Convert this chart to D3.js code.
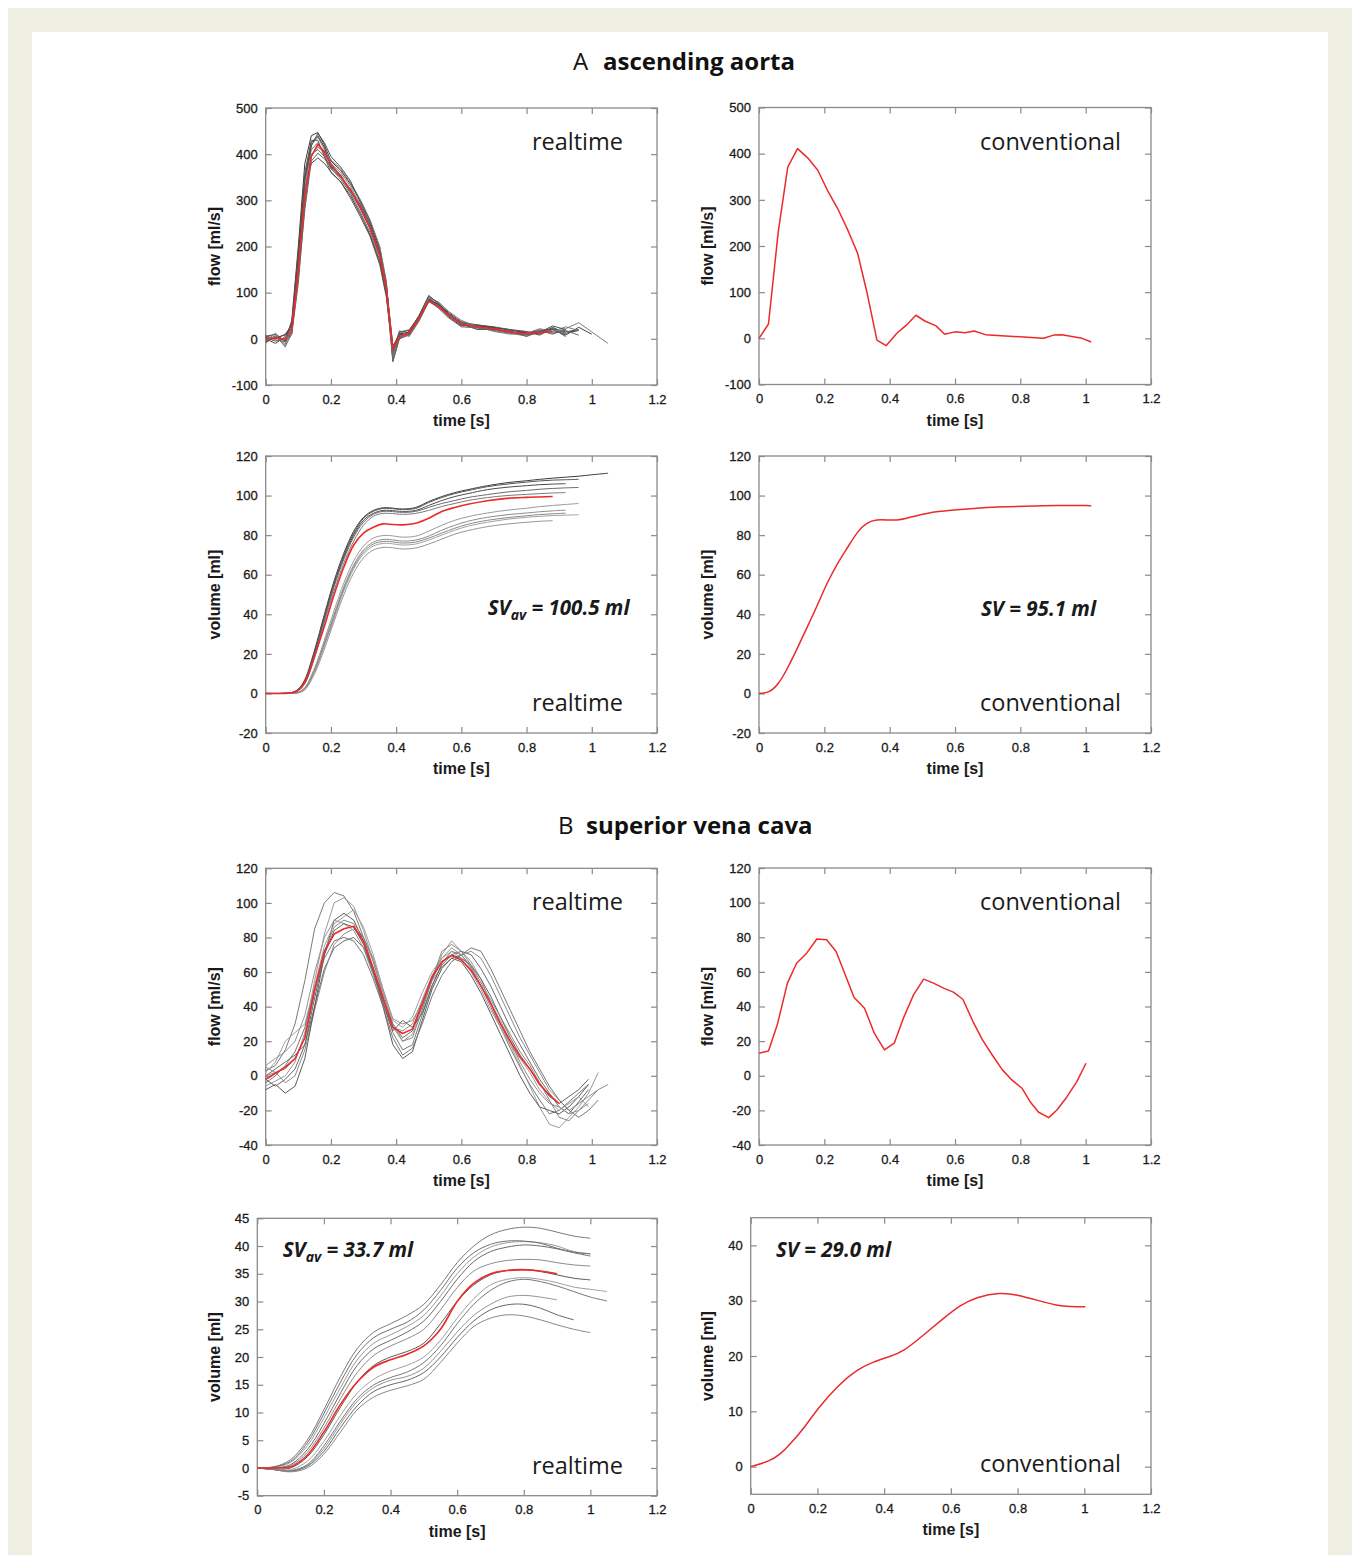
<!DOCTYPE html>
<html>
<head>
<meta charset="utf-8">
<script src="https://cdn.jsdelivr.net/npm/d3@7"></script>
<style>
  body { margin: 0; background: #fff; }
  svg { display: block; }
  .axis line { stroke: #8a8a8a; stroke-width: 1.2; }
  .axis text { font-family: Arial, "Liberation Sans", sans-serif; font-size: 13px; fill: #1a1a1a; stroke: #1a1a1a; stroke-width: 0.3; }
  .axis-title { font-family: Arial, "Liberation Sans", sans-serif; font-size: 16px; font-weight: bold; fill: #1a1a1a; }
  .tag { font-family: "Open Sans", sans-serif; font-size: 23.5px; fill: #1a1a1a; }
  .sv { font-family: "Open Sans", sans-serif; font-size: 20.5px; font-weight: bold; font-style: italic; fill: #1a1a1a; }
  .title { font-family: "Open Sans", sans-serif; font-size: 24px; fill: #111; }
</style>
</head>
<body>
<svg id="chart" width="1355" height="1555"></svg>
<script>
// ---- data ----
const xTicks = [0, 0.2, 0.4, 0.6, 0.8, 1, 1.2];

// A: ascending aorta, realtime flow (ml/s)
const aFlowRtTime = [0, 0.03, 0.06, 0.08, 0.10, 0.12, 0.14, 0.16, 0.18, 0.20, 0.23, 0.26, 0.29, 0.32, 0.35, 0.37, 0.39, 0.41, 0.44, 0.47, 0.50, 0.53, 0.56, 0.60, 0.65, 0.70, 0.75, 0.80, 0.84, 0.88, 0.92, 0.96, 1.0, 1.05];
const aFlowRtMean = [-3, 2, -1, 20, 150, 310, 395, 421, 405, 378, 352, 322, 285, 240, 180, 110, -22, 5, 12, 45, 82, 70, 52, 32, 26, 22, 15, 11, 14, 16];
const aFlowRtRuns = [
  [5, 10, -5, 40, 200, 380, 440, 447, 420, 385, 365, 335, 300, 255, 195, 120, -45, 10, 15, 50, 92, 78, 55, 35, 28, 24, 20, 12, 18, 22, 15, 20],
  [-8, 5, -15, 10, 120, 290, 400, 410, 395, 370, 345, 315, 275, 230, 170, 100, -50, 0, 8, 40, 88, 72, 50, 30, 25, 18, 14, 8, 12, 20, 10],
  [0, -10, 5, 25, 170, 330, 380, 392, 380, 362, 340, 310, 270, 225, 165, 95, -30, 12, 10, 42, 85, 74, 58, 36, 30, 25, 18, 15, 10, 25, 12, 18],
  [-10, 8, -18, 15, 140, 320, 420, 437, 410, 380, 360, 330, 292, 248, 185, 105, -40, 15, 20, 48, 90, 68, 50, 34, 22, 20, 16, 9, 20, 14, 22, 35, 15, -10],
  [3, 0, 10, 30, 180, 350, 425, 440, 415, 372, 355, 320, 282, 238, 178, 115, -15, 8, 14, 46, 86, 75, 56, 30, 28, 23, 13, 14, 16, 20, 8, 25, 10],
  [-5, 12, -8, 18, 160, 340, 410, 425, 400, 368, 350, 318, 290, 245, 190, 120, -35, 18, 5, 38, 80, 72, 54, 38, 24, 18, 12, 6, 18, 10, 20],
  [2, -5, 0, 35, 190, 360, 430, 430, 395, 360, 340, 305, 265, 222, 160, 90, -25, 0, 16, 44, 84, 70, 48, 28, 30, 26, 20, 16, 8, 22, 5],
  [-2, 6, -12, 22, 150, 300, 398, 415, 405, 388, 368, 338, 302, 258, 200, 125, -42, 6, 12, 42, 88, 80, 60, 40, 26, 16, 10, 12, 22, 16, 26, 18],
  [-6, 3, 8, 28, 175, 345, 418, 445, 425, 395, 372, 342, 296, 250, 188, 112, -20, 14, 18, 50, 94, 76, 52, 32, 20, 22, 15, 10, 14, 28, 20],
  [8, -2, -6, 12, 130, 280, 385, 402, 390, 375, 350, 325, 288, 242, 182, 108, -48, 2, 10, 40, 82, 66, 46, 26, 24, 20, 17, 5, 16, 12, 18, 8]
];

// A: ascending aorta, conventional flow (ml/s)
const aFlowConvTime = [0, 0.029, 0.059, 0.088, 0.118, 0.149, 0.18, 0.212, 0.243, 0.274, 0.302, 0.33, 0.361, 0.389, 0.422, 0.452, 0.48, 0.509, 0.542, 0.568, 0.6, 0.631, 0.659, 0.693, 0.754, 0.81, 0.871, 0.902, 0.927, 0.989, 1.017];
const aFlowConv = [0, 31, 231, 371, 411, 391, 364, 317, 278, 231, 184, 101, -4, -16, 11, 29, 50, 37, 27, 9, 14, 12, 16, 8, 5, 3, 0, 7, 8, 0, -8];

// A: ascending aorta, realtime volume (ml)
const aVolRtTime = [0, 0.05, 0.08, 0.10, 0.12, 0.15, 0.18, 0.21, 0.24, 0.27, 0.30, 0.33, 0.36, 0.38, 0.42, 0.46, 0.50, 0.54, 0.58, 0.62, 0.68, 0.74, 0.80, 0.84, 0.88, 0.92, 0.96, 1.0, 1.05];
const aVolRtMean = [0, 0, 0.3, 1.5, 5.5, 19, 34, 50, 64, 75, 81, 84, 85.7, 85.5, 85.2, 86, 88.5, 92, 94, 95.6, 97.4, 98.6, 99.1, 99.3, 99.5];
const aVolRtRuns = [
  [0, 0, 0.5, 2.2, 7, 22, 40, 57, 71, 82, 89, 92.5, 93.8, 93.8, 93.2, 94, 97, 99.5, 101.5, 103, 105, 106.5, 107.5, 108.2, 108.8, 109.3, 109.8, 110.5, 111.3],
  [0, 0, 0.4, 2, 6.5, 21, 39, 56, 70, 81, 88.5, 92, 93.5, 93.5, 93, 93.5, 96.5, 99, 101, 102.5, 104.5, 105.8, 106.8, 107.4, 107.8, 108, 108.2],
  [0, 0, 0.3, 1.8, 6, 20, 38, 55, 69, 80, 87.5, 91, 92.5, 92.5, 92, 92.5, 95, 97.5, 99.5, 101, 103, 104.2, 105, 105.5, 105.8, 106],
  [0, 0, 0.3, 1.6, 5.5, 19, 37, 54, 68, 79, 86.5, 90.5, 92, 92, 91.5, 92, 94, 96, 97.5, 99, 100.5, 101.8, 102.6, 103.2, 103.6, 103.9, 104.1],
  [0, 0, 0.3, 1.5, 5, 18, 36, 52, 66, 77, 85, 89.5, 91, 91, 90.5, 91, 92.5, 94.5, 96, 97.5, 99, 100, 100.6, 101, 101.3, 101.5],
  [0, 0, 0, 0.6, 3, 13, 27, 42, 56, 67, 74.5, 78.5, 79.8, 79.8, 79, 79.5, 82, 85, 87.5, 89.3, 91.2, 92.6, 93.6, 94.4, 95, 95.5, 96],
  [0, 0, 0, 0.5, 2.6, 12, 25.5, 40, 54, 65, 72.5, 76.5, 77.8, 77.8, 77, 77.5, 79.5, 82.5, 85, 87, 89, 90.3, 91.2, 91.8, 92.3, 92.6],
  [0, 0, 0, 0.4, 2.2, 11, 24, 38, 52, 63, 70.5, 74.5, 75.8, 75.8, 75, 75.5, 77.5, 80, 82.5, 84.5, 86.5, 88, 89, 89.5, 89.9, 90.1, 90.3],
  [0, 0, 0, 0.3, 1.8, 10, 22.5, 36.5, 50, 61, 68.5, 72.5, 73.8, 73.8, 73, 73.5, 75.5, 78, 80.5, 82.3, 84.3, 85.6, 86.5, 87, 87.3],
  [0, 0, 0, 0.5, 2.4, 11.5, 25, 39, 53, 64, 71.5, 75.5, 76.8, 76.8, 76, 76.5, 78.5, 81, 83.5, 85.5, 87.5, 88.8, 89.8, 90.4, 90.8, 91.1]
];

// A: ascending aorta, conventional volume (ml)
const aVolConvTime = [0, 0.031, 0.059, 0.088, 0.118, 0.149, 0.18, 0.21, 0.241, 0.272, 0.302, 0.33, 0.361, 0.391, 0.422, 0.452, 0.483, 0.514, 0.544, 0.606, 0.667, 0.728, 0.81, 0.912, 1.017];
const aVolConv = [0, 0.3, 4.4, 12.8, 23, 34, 45, 56.5, 66, 74, 82, 86.5, 87.9, 87.7, 87.5, 88.5, 89.9, 91, 91.9, 92.9, 93.7, 94.2, 94.6, 95.1, 94.9];

// B: superior vena cava, realtime flow (ml/s)
const bFlowRtTime = [0, 0.03, 0.06, 0.09, 0.12, 0.15, 0.18, 0.21, 0.24, 0.27, 0.30, 0.33, 0.36, 0.39, 0.42, 0.45, 0.48, 0.51, 0.54, 0.57, 0.60, 0.63, 0.66, 0.69, 0.72, 0.75, 0.78, 0.81, 0.84, 0.87, 0.90, 0.93, 0.96, 0.99, 1.02, 1.05];
const bFlowRtMean = [-2, 1.5, 5, 10, 22, 50, 72, 82, 85, 86.5, 77.5, 62, 45, 28, 24.5, 27, 42, 57, 66, 69.5, 67, 61, 52, 42, 30, 20, 11, 4, -5, -11, -16];
const bFlowRtRuns = [
  [3, 6, 15, 30, 55, 85, 100, 106, 104, 95, 80, 62, 42, 25, 15, 18, 35, 52, 65, 72, 70, 63, 52, 40, 28, 16, 5, -5, -14, -22, -20, -15, -10, -5],
  [-6, -3, 0, 8, 25, 55, 82, 100, 103, 98, 84, 66, 46, 28, 20, 24, 38, 55, 70, 78, 72, 66, 56, 42, 30, 18, 6, -6, -18, -28, -30, -24, -18, -10, 2],
  [0, 4, 8, 12, 18, 40, 62, 74, 78, 80, 74, 60, 44, 30, 22, 26, 40, 56, 66, 70, 72, 70, 62, 52, 40, 28, 18, 8, -2, -10, -18, -22, -15, -8],
  [5, 2, -4, 0, 15, 38, 60, 76, 82, 85, 80, 68, 50, 33, 30, 32, 42, 55, 63, 68, 70, 72, 68, 58, 46, 34, 22, 12, 2, -8, -14, -20, -16, -12, -8, -5],
  [-8, -5, -10, -6, 10, 40, 70, 90, 94, 90, 78, 60, 40, 18, 10, 14, 32, 50, 62, 68, 66, 58, 48, 36, 24, 12, 0, -10, -18, -20, -22, -18, -12, -5],
  [2, 8, 20, 25, 30, 52, 75, 88, 92, 96, 86, 70, 50, 32, 28, 34, 48, 60, 68, 72, 68, 60, 50, 38, 28, 18, 10, 2, -8, -15, -20, -16, -12, -18],
  [-4, 0, 6, 14, 28, 50, 68, 78, 80, 78, 70, 56, 40, 22, 12, 16, 30, 46, 58, 66, 70, 74, 72, 62, 50, 38, 26, 14, 4, -6, -14, -20, -24, -20, -14],
  [6, 10, 14, 20, 35, 60, 80, 90, 88, 84, 74, 58, 42, 28, 26, 30, 44, 58, 68, 74, 70, 62, 52, 42, 32, 20, 8, -2, -10, -16, -18, -22, -20, -16],
  [-2, -6, -2, 4, 18, 45, 70, 84, 88, 86, 76, 60, 42, 26, 32, 28, 36, 52, 64, 70, 68, 64, 56, 46, 34, 22, 12, 4, -4, -12, -16, -12, -8, -2],
  [0, 2, 4, 10, 22, 48, 72, 86, 90, 88, 80, 66, 48, 30, 20, 22, 38, 56, 72, 76, 72, 64, 54, 44, 34, 24, 14, 6, -4, -14, -24, -26, -20, -14, -8]
];

// B: superior vena cava, conventional flow (ml/s)
const bFlowConvTime = [0, 0.029, 0.056, 0.087, 0.115, 0.146, 0.177, 0.207, 0.236, 0.264, 0.291, 0.323, 0.353, 0.384, 0.414, 0.442, 0.473, 0.504, 0.534, 0.565, 0.595, 0.624, 0.655, 0.684, 0.714, 0.745, 0.774, 0.805, 0.83, 0.856, 0.887, 0.912, 0.943, 0.973, 1.001];
const bFlowConv = [13, 14.3, 29.4, 53.5, 65, 70.8, 79, 78.5, 71.8, 58.3, 45.2, 39, 24.6, 14.9, 18.8, 33.2, 46.7, 55.8, 53.5, 50.6, 48.3, 44.2, 31.3, 20.7, 12, 3.4, -2.4, -7.2, -15, -21.1, -24.2, -19.8, -12.1, -3.4, 7.2];

// B: superior vena cava, realtime volume (ml)
const bVolRtTime = [0, 0.05, 0.10, 0.15, 0.20, 0.25, 0.30, 0.35, 0.40, 0.45, 0.50, 0.55, 0.60, 0.65, 0.70, 0.75, 0.80, 0.85, 0.90, 0.95, 1.0, 1.05];
const bVolRtMean = [0, 0, 0.2, 2.3, 6.5, 11.5, 15.5, 18.2, 19.5, 20.5, 22, 25, 30, 33.3, 35, 35.6, 35.7, 35.5, 35];
const bVolRtRuns = [
  [0, 0.2, 1.5, 5, 10.5, 16.5, 21.5, 24.5, 26, 27.5, 29.5, 33, 37, 40, 42, 43, 43.4, 43.2, 42.5, 41.8, 41.4],
  [0, 0.1, 1, 4, 9, 14.5, 19.5, 22.5, 24, 25.5, 27.5, 31, 35, 38, 39.8, 40.6, 40.8, 40.6, 40, 39, 38.6],
  [0, 0, 0.6, 3.3, 8, 13.5, 18.5, 21.5, 23, 24.5, 26.5, 30, 34, 37.2, 39, 39.8, 40.2, 40, 39.5, 38.8, 38.2],
  [0, 0, 0.4, 2.8, 7.2, 12.5, 17.2, 20.3, 22, 23.3, 25, 28.5, 32.5, 35.5, 36.8, 37.4, 37.6, 37.5, 37, 36.6, 36.4],
  [0, -0.2, 0, 2, 6, 11, 15.5, 18.5, 20, 21, 22.5, 26, 30, 33, 34.8, 35.6, 35.8, 35.4, 34.8, 34.2, 33.9],
  [0, -0.3, -0.3, 1.2, 4.8, 9.5, 13.5, 16, 17.5, 18.5, 20, 23, 27, 30.5, 33, 34, 34.3, 34, 33.4, 32.6, 32.2, 31.8],
  [0, -0.3, -0.5, 0.6, 4, 8.5, 12.5, 15, 16.3, 17.3, 19, 22, 26, 29.5, 32, 33.5, 34, 33.6, 32.8, 31.8, 30.8, 30.1],
  [0, -0.2, -0.5, 0.5, 3.5, 8, 12, 14.5, 15.8, 16.5, 18, 21, 24.5, 27.5, 29.5, 30.8, 31.1, 30.8, 30.3],
  [0, -0.3, -0.6, 0.3, 3, 7.3, 11.2, 13.8, 15, 15.8, 17.2, 20, 23.5, 26.5, 28.5, 29.4, 29.5, 28.8, 27.6, 26.7],
  [0, -0.3, -0.7, 0, 2.5, 6.5, 10.5, 12.8, 14, 14.8, 16, 19, 22.5, 25.5, 27, 27.6, 27.4, 26.7, 25.8, 25, 24.4],
  [0, 0.2, 1.2, 4.5, 9.8, 15.5, 20.5, 23.5, 25, 26.3, 28.5, 32, 36, 38.8, 40.3, 40.9, 40.9, 40.5, 39.6, 38.9, 38.6]
];

// B: superior vena cava, conventional volume (ml)
const bVolConvTime = [0, 0.058, 0.088, 0.118, 0.168, 0.198, 0.263, 0.318, 0.368, 0.418, 0.458, 0.518, 0.578, 0.628, 0.678, 0.748, 0.798, 0.858, 0.918, 0.958, 1.003];
const bVolConv = [0, 1, 2.2, 4, 7.6, 10.3, 14.8, 17.5, 19, 19.9, 20.8, 23.8, 26.8, 29.2, 30.7, 31.5, 31.1, 30.1, 29.1, 28.9, 28.9];

// ---- drawing ----
const svg = d3.select("#chart");
const darkGrays = ["#3a3a3a", "#6a6a6a", "#4a4a4a", "#808080", "#444444", "#707070", "#555555", "#7a7a7a", "#4f4f4f", "#666666"];
const volGraysA = ["#3c3c3c", "#555555", "#4a4a4a", "#6a6a6a", "#7a7a7a", "#9a9a9a", "#8c8c8c", "#a2a2a2", "#959595", "#888888"];
const midGrays = ["#7a7a7a", "#9a9a9a", "#6a6a6a", "#8c8c8c", "#5a5a5a", "#a0a0a0", "#777777", "#939393", "#666666", "#888888", "#707070"];
const red = "#ec2a2a";

// page frame
svg.append("rect").attr("x", 8).attr("y", 8).attr("width", 1344).attr("height", 1547).attr("fill", "#eeeee3");
svg.append("rect").attr("x", 32).attr("y", 32).attr("width", 1296).attr("height", 1523).attr("fill", "#ffffff");

// section titles
function sectionTitle(letter, name, xL, xN, y) {
  svg.append("text").attr("class", "title").attr("x", xL).attr("y", y).text(letter);
  svg.append("text").attr("class", "title").attr("x", xN).attr("y", y).attr("font-weight", "bold").text(name);
}
sectionTitle("A", "ascending aorta", 573, 603, 70);
sectionTitle("B", "superior vena cava", 558, 586, 834);

function panel(box, yDomain, yTicks, yLabel) {
  const x = d3.scaleLinear().domain([0, 1.2]).range([box.l, box.r]);
  const y = d3.scaleLinear().domain(yDomain).range([box.b, box.t]);
  const g = svg.append("g");
  const fmt = d => String(d);

  g.append("g").attr("class", "axis").attr("transform", `translate(0,${box.b})`)
    .call(d3.axisBottom(x).tickValues(xTicks).tickFormat(fmt).tickSizeInner(-6).tickSizeOuter(0).tickPadding(9.5));
  g.append("g").attr("class", "axis").attr("transform", `translate(0,${box.t})`)
    .call(d3.axisTop(x).tickValues(xTicks).tickFormat("").tickSizeInner(-6).tickSizeOuter(0));
  g.append("g").attr("class", "axis").attr("transform", `translate(${box.l},0)`)
    .call(d3.axisLeft(y).tickValues(yTicks).tickFormat(fmt).tickSizeInner(-6).tickSizeOuter(0).tickPadding(8));
  g.append("g").attr("class", "axis").attr("transform", `translate(${box.r},0)`)
    .call(d3.axisRight(y).tickValues(yTicks).tickFormat("").tickSizeInner(-6).tickSizeOuter(0));
  g.selectAll(".domain").remove();

  g.append("rect")
    .attr("x", box.l).attr("y", box.t)
    .attr("width", box.r - box.l).attr("height", box.b - box.t)
    .attr("fill", "none").attr("stroke", "#8a8a8a").attr("stroke-width", 1.3);

  g.append("text").attr("class", "axis-title")
    .attr("x", (box.l + box.r) / 2).attr("y", box.b + 41)
    .attr("text-anchor", "middle").text("time [s]");
  g.append("text").attr("class", "axis-title")
    .attr("transform", `translate(${box.yl},${(box.t + box.b) / 2}) rotate(-90)`)
    .attr("text-anchor", "middle").text(yLabel);

  return { g, x, y, box };
}

function drawLine(p, times, values, color, width, curve) {
  const line = d3.line().x(d => p.x(d[0])).y(d => p.y(d[1])).curve(curve);
  p.g.append("path")
    .datum(d3.zip(times.slice(0, values.length), values))
    .attr("fill", "none").attr("stroke", color).attr("stroke-width", width)
    .attr("stroke-linejoin", "round")
    .attr("d", line);
}

function tag(p, text, where) {
  p.g.append("text").attr("class", "tag")
    .attr("x", text === "realtime" ? p.box.r - 34 : p.box.r - 30)
    .attr("y", where === "top" ? p.box.t + 42 : p.box.b - 22)
    .attr("text-anchor", "end").text(text);
}

function svLabel(p, x, y, sub, rest) {
  const t = p.g.append("text").attr("class", "sv").attr("x", x).attr("y", y);
  t.append("tspan").text("SV");
  if (sub) {
    t.append("tspan").attr("font-size", "14px").attr("dy", 5).text(sub);
    t.append("tspan").attr("dy", -5).text(rest);
  } else {
    t.append("tspan").text(rest);
  }
}

const smooth = d3.curveCatmullRom.alpha(0.5);

// A flow realtime
const p1 = panel({ l: 265.7, r: 657, t: 108, b: 385, yl: 220 }, [-100, 500], [-100, 0, 100, 200, 300, 400, 500], "flow [ml/s]");
aFlowRtRuns.forEach((v, i) => drawLine(p1, aFlowRtTime, v, darkGrays[i % darkGrays.length], 1, d3.curveLinear));
drawLine(p1, aFlowRtTime, aFlowRtMean, red, 1.6, d3.curveLinear);
tag(p1, "realtime", "top");

// A flow conventional
const p2 = panel({ l: 759, r: 1151, t: 107.5, b: 384.5, yl: 713 }, [-100, 500], [-100, 0, 100, 200, 300, 400, 500], "flow [ml/s]");
drawLine(p2, aFlowConvTime, aFlowConv, red, 1.5, d3.curveLinear);
tag(p2, "conventional", "top");

// A volume realtime
const p3 = panel({ l: 265.7, r: 657, t: 456, b: 733, yl: 220 }, [-20, 120], [-20, 0, 20, 40, 60, 80, 100, 120], "volume [ml]");
aVolRtRuns.forEach((v, i) => drawLine(p3, aVolRtTime, v, volGraysA[i % volGraysA.length], 1, smooth));
drawLine(p3, aVolRtTime, aVolRtMean, red, 1.6, smooth);
tag(p3, "realtime", "bottom");
svLabel(p3, 487.7, 615, "av", " = 100.5 ml");

// A volume conventional
const p4 = panel({ l: 759, r: 1151, t: 456, b: 733, yl: 713 }, [-20, 120], [-20, 0, 20, 40, 60, 80, 100, 120], "volume [ml]");
drawLine(p4, aVolConvTime, aVolConv, red, 1.5, d3.curveBasis);
tag(p4, "conventional", "bottom");
svLabel(p4, 981, 615.5, null, " = 95.1 ml");

// B flow realtime
const p5 = panel({ l: 265.7, r: 657, t: 868.3, b: 1145, yl: 220 }, [-40, 120], [-40, -20, 0, 20, 40, 60, 80, 100, 120], "flow [ml/s]");
bFlowRtRuns.forEach((v, i) => drawLine(p5, bFlowRtTime, v, midGrays[i % midGrays.length], 1, d3.curveLinear));
drawLine(p5, bFlowRtTime, bFlowRtMean, red, 1.6, d3.curveLinear);
tag(p5, "realtime", "top");

// B flow conventional
const p6 = panel({ l: 759, r: 1151, t: 868, b: 1145, yl: 713 }, [-40, 120], [-40, -20, 0, 20, 40, 60, 80, 100, 120], "flow [ml/s]");
drawLine(p6, bFlowConvTime, bFlowConv, red, 1.5, d3.curveLinear);
tag(p6, "conventional", "top");

// B volume realtime
const p7 = panel({ l: 257.3, r: 657, t: 1218.3, b: 1495.7, yl: 220 }, [-5, 45], [-5, 0, 5, 10, 15, 20, 25, 30, 35, 40, 45], "volume [ml]");
bVolRtRuns.forEach((v, i) => drawLine(p7, bVolRtTime, v, midGrays[i % midGrays.length], 1, smooth));
drawLine(p7, bVolRtTime, bVolRtMean, red, 1.6, smooth);
tag(p7, "realtime", "bottom");
svLabel(p7, 282.7, 1256.7, "av", " = 33.7 ml");

// B volume conventional
const p8 = panel({ l: 750.7, r: 1151, t: 1217.7, b: 1494.3, yl: 713 }, [-5, 45], [0, 10, 20, 30, 40], "volume [ml]");
drawLine(p8, bVolConvTime, bVolConv, red, 1.5, d3.curveBasis);
tag(p8, "conventional", "bottom");
svLabel(p8, 776, 1256.7, null, " = 29.0 ml");
</script>
</body>
</html>
